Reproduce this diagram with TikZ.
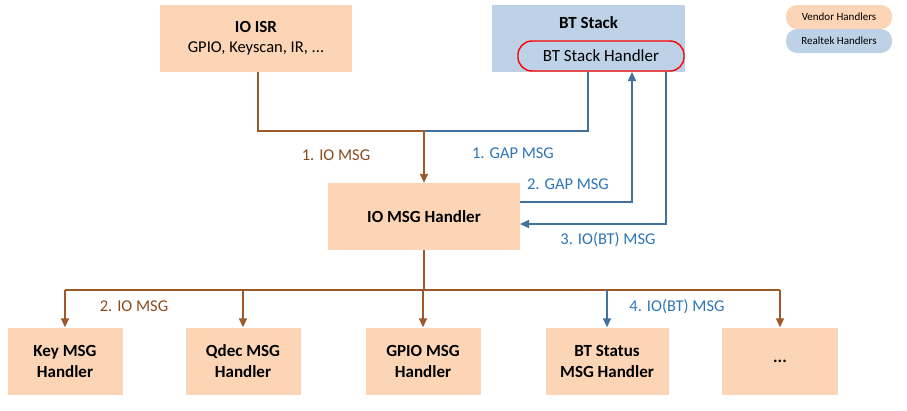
\documentclass[tikz,border=0pt]{standalone}
\usepackage{fontspec}
\setmainfont{Carlito}
\usetikzlibrary{arrows.meta, positioning}
\definecolor{vendorfill}{HTML}{FBD5B5}
\definecolor{rtkfill}{HTML}{BDD2E6}
\definecolor{brownline}{HTML}{9C5A2A}
\definecolor{blueline}{HTML}{41719C}
\definecolor{bluetext}{HTML}{2E75B6}
\definecolor{browntext}{HTML}{8B4A1C}
\begin{document}
\begin{tikzpicture}[
    x=1pt, y=-1pt,
    vendor/.style={rectangle, fill=vendorfill, minimum height=67pt, align=center, font=\bfseries\fontsize{17}{21}\selectfont},
    realtek/.style={rectangle, fill=rtkfill, minimum height=67pt, minimum width=193pt},
    legend/.style={rounded corners=11pt, minimum width=106pt, minimum height=24pt, font=\fontsize{11}{13}\selectfont},
    brownarrow/.style={-{Triangle[length=9pt,width=8pt]}, brownline, line width=1.4pt},
    bluearrow/.style={-{Triangle[length=9pt,width=8pt]}, blueline, line width=1.4pt},
    label/.style={font=\fontsize{16.5}{19}\selectfont}
]
    \useasboundingbox (0,0) rectangle (907,410);

    % Top sources
    \node[vendor, minimum width=192pt] (isr) at (256,38.5) {IO ISR\\[-1pt]{\normalfont\fontsize{16.5}{19}\selectfont GPIO, Keyscan, IR, ...}};
    \node[realtek] (bt) at (588.5,38.5) {};
    \node[font=\bfseries\fontsize{17}{21}\selectfont] (bttitle) at (588.5,23) {BT Stack};
    \node[draw=red, line width=1.4pt, rounded corners=14pt, minimum width=166pt, minimum height=30pt, font=\fontsize{17}{21}\selectfont] (bth) at (601,56) {BT Stack Handler};

    % Legend
    \node[legend, fill=vendorfill] (lv) at (839,17) {Vendor Handlers};
    \node[legend, fill=rtkfill] (lr) at (839,41) {Realtek Handlers};

    % Dispatcher
    \node[vendor, minimum width=192pt] (io) at (424,216.5) {IO MSG Handler};

    % Bottom handlers
    \node[vendor, minimum width=115pt] (key) at (65,361) {Key MSG\\Handler};
    \node[vendor, minimum width=115pt] (qdec) at (243,361) {Qdec MSG\\Handler};
    \node[vendor, minimum width=115pt] (gpio) at (423,361) {GPIO MSG\\Handler};
    \node[vendor, minimum width=123pt] (bts) at (607,361) {BT Status\\MSG Handler};
    \node[vendor, minimum width=116pt] (more) at (780,361) {...};

    % Coordinates
    \coordinate (join) at (424,131);
    \coordinate (split) at (424,290);
    \coordinate (isrout) at (258,72);
    \coordinate (btout) at (588,72);
    \coordinate (gapin) at (632,72);
    \coordinate (ioout) at (666,72);
    \coordinate (gapout) at (520,202);
    \coordinate (ioin) at (520,224);

    % Connections
    \draw[blueline, line width=1.4pt] (btout) |- (join);
    \draw[brownline, line width=1.4pt] (isrout) |- (join);
    \draw[brownarrow] (join) -- (io);
    \draw[bluearrow] (gapout) -| (gapin);
    \draw[bluearrow] (ioout) |- (ioin);
    \draw[brownline, line width=1.4pt] (io) -- (split);
    \draw[brownline, line width=1.4pt] (key.north |- split) -- (more.north |- split);
    \foreach \n in {key, qdec, gpio, more}
        \draw[brownarrow] (\n.north |- split) -- (\n);
    \draw[bluearrow] (bts.north |- split) -- (bts);

    % Labels
    \node[label, text=browntext] at (336,155) {1. IO MSG};
    \node[label, text=bluetext] at (513,153) {1. GAP MSG};
    \node[label, text=bluetext] at (568,184) {2. GAP MSG};
    \node[label, text=bluetext] at (608,240) {3. IO(BT) MSG};
    \node[label, text=browntext] at (134,306) {2. IO MSG};
    \node[label, text=bluetext] at (677,307) {4. IO(BT) MSG};
\end{tikzpicture}
\end{document}
